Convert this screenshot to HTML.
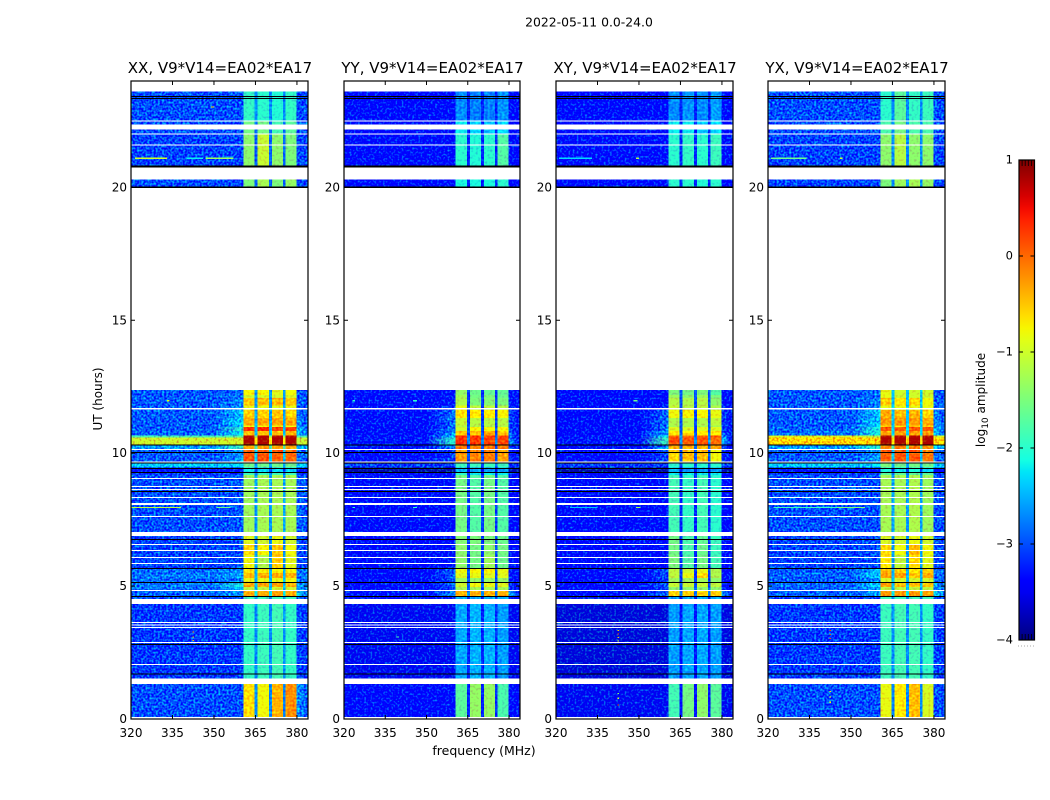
<!DOCTYPE html>
<html>
<head>
<meta charset="utf-8">
<title>2022-05-11 amplitude waterfall</title>
<style>
html,body{margin:0;padding:0;background:#fff;}
svg{display:block;}
text{font-family:"DejaVu Sans","Liberation Sans",sans-serif;fill:#000;}
</style>
</head>
<body>
<svg id="chart" xmlns="http://www.w3.org/2000/svg" width="1050" height="800" viewBox="0 0 1050 800">
  <defs id="chart-defs">
    <filter id="grain-strong" filterUnits="userSpaceOnUse" x="0" y="0" width="1050" height="800" color-interpolation-filters="sRGB">
      <feTurbulence type="fractalNoise" baseFrequency="0.48" numOctaves="1" seed="7" result="t"/>
      <feColorMatrix in="t" type="matrix" values="0 0 0 0 .5  0 1 0 0 0  0 0 0 0 .5  0 0 0 0 1" result="n"/>
      <feComposite in="SourceGraphic" in2="n" operator="arithmetic" k1="0" k2="1" k3="1.8" k4="-0.9" result="c"/>
      <feComposite in="c" in2="SourceAlpha" operator="in"/>
    </filter>
    <filter id="grain-weak" filterUnits="userSpaceOnUse" x="0" y="0" width="1050" height="800" color-interpolation-filters="sRGB">
      <feTurbulence type="fractalNoise" baseFrequency="0.42" numOctaves="1" seed="3" result="t"/>
      <feColorMatrix in="t" type="matrix" values="0 0 0 0 .5  0 1 0 0 0  0 0 0 0 .5  0 0 0 0 1" result="n"/>
      <feComposite in="SourceGraphic" in2="n" operator="arithmetic" k1="0" k2="1" k3="0.8" k4="-0.4" result="c"/>
      <feComposite in="c" in2="SourceAlpha" operator="in"/>
    </filter>
    <linearGradient id="jet-gradient" x1="0" y1="1" x2="0" y2="0"></linearGradient>
  </defs>
  <text x="589" y="26.5" font-size="12.4" text-anchor="middle">2022-05-11 0.0-24.0</text>
  <text x="484" y="755" font-size="12.5" text-anchor="middle">frequency (MHz)</text>
  <text transform="translate(102,399) rotate(-90)" font-size="12" text-anchor="middle">UT (hours)</text>
  <text transform="translate(985,400) rotate(-90)" font-size="12" text-anchor="middle">log<tspan font-size="9" dy="3">10</tspan><tspan dy="-3"> amplitude</tspan></text>
</svg>
<script>
// ---- chart data ----
const panelTitles = ["XX, V9*V14=EA02*EA17", "YY, V9*V14=EA02*EA17", "XY, V9*V14=EA02*EA17", "YX, V9*V14=EA02*EA17"];
const freqTicks = [320, 335, 350, 365, 380];
const timeTicks = [0, 5, 10, 15, 20];
const colorTicks = [1, 0, -1, -2, -3, -4];
const colorTickLabels = ["1", "0", "\u22121", "\u22122", "\u22123", "\u22124"];

// Frequency channel-group edges (MHz): off-band, shoulder, four sub-bands with gaps, right edge
const freqEdges = [320, 350, 360.6, 364.7, 365.8, 369.9, 370.9, 374.9, 375.9, 379.9, 384];
// Which value of a row each channel group reads: off, shoulder, b1, b2, b3, b4, gap, right
const groupValue = [0, 1, 2, 6, 3, 6, 4, 6, 5, 7];

// Time-block edges (UT hours), descending
const timeEdges = [23.61,22.52,21.99,20.74,20.0,12.37,12.18,12.07,11.80,11.62,11.32,11.05,10.98,10.83,10.66,10.58,10.33,10.11,9.66,9.47,9.29,9.17,6.88,6.54,6.17,5.68,5.49,5.30,5.11,4.96,4.81,4.59,4.32,1.52,0.08];

// log10 amplitude per time block: [off, shoulder, b1, b2, b3, b4, gap, right]
const ampXX = [
[-3.0,-3.0,-1.95,-2.0,-2.05,-1.95,-2.7,-3.05],
[-3.0,-3.0,-1.55,-1.55,-1.85,-1.7,-2.9,-3.0],
[-3.05,-3.05,-1.4,-1.05,-1.4,-1.5,-2.9,-3.0],
[-3.0,-3.05,-1.5,-1.25,-1.5,-1.35,-2.9,-3.05],
null,
[-2.95,-2.85,-0.75,-0.75,-0.9,-0.8,-2.6,-3.0],
[-2.95,-2.85,-1.0,-0.95,-1.0,-0.95,-2.6,-3.0],
[-2.95,-2.7,-0.5,-0.45,-0.45,-0.5,-2.6,-2.9],
[-2.95,-2.6,-0.85,-0.85,-0.9,-0.85,-2.6,-2.9],
[-2.95,-2.4,-0.55,-0.55,-0.5,-0.6,-2.6,-2.8],
[-2.95,-2.3,-0.35,-0.35,-0.3,-0.35,-2.5,-2.7],
[-2.95,-2.4,-0.8,-0.8,-0.8,-0.8,-2.5,-2.6],
[-2.95,-2.0,0.3,0.35,0.2,0.2,-2.4,-2.4],
[-2.9,-2.2,-0.45,-0.45,-0.45,-0.4,-2.4,-2.5],
[-1.8,-1.7,0.75,0.75,0.75,0.75,-1.4,-1.8],
[-1.0,-0.95,0.8,0.8,0.8,0.8,-0.7,-1.1],
[-2.6,-1.9,-0.35,-0.3,-0.3,-0.35,-1.8,-2.4],
[-2.95,-2.6,0.1,0.1,0.05,0.0,-2.4,-2.8],
[-2.4,-2.3,-1.6,-1.6,-1.6,-1.6,-2.5,-2.3],
[-3.4,-3.4,-2.2,-2.3,-2.3,-2.3,-3.1,-3.4],
[-3.1,-3.1,-1.9,-1.9,-1.9,-1.9,-2.8,-3.1],
[-3.0,-2.95,-1.3,-1.25,-1.25,-1.25,-2.6,-2.9],
[-3.05,-3.0,-0.9,-1.0,-0.85,-1.0,-2.7,-3.0],
[-3.05,-3.0,-0.6,-0.75,-0.5,-0.8,-2.7,-3.0],
[-3.05,-3.0,-0.8,-1.2,-0.55,-0.9,-2.6,-3.0],
[-2.85,-2.7,-0.65,-0.75,-0.75,-0.75,-2.5,-2.8],
[-2.8,-2.5,-0.45,-0.35,-0.35,-0.4,-2.5,-2.8],
[-2.85,-2.8,-0.85,-0.85,-0.85,-0.8,-2.5,-2.8],
[-2.8,-2.1,-0.3,-0.35,-0.3,-0.4,-2.4,-2.5],
[-2.85,-2.5,-1.1,-1.1,-1.0,-1.0,-2.5,-2.7],
[-2.9,-2.6,-0.35,-0.35,-0.3,-0.35,-2.2,-2.2],
[-3.0,-3.0,-1.9,-1.9,-1.9,-1.9,-2.7,-3.0],
[-3.1,-3.1,-1.95,-1.9,-1.85,-1.95,-2.7,-3.05],
[-3.0,-3.0,-0.65,-0.8,-0.4,-0.2,-2.7,-2.6]
];
const ampYY = [
[-3.45,-3.45,-2.7,-2.75,-2.75,-2.65,-3.2,-3.45],
[-3.45,-3.45,-2.2,-2.3,-2.4,-2.3,-3.2,-3.45],
[-3.4,-3.4,-2.0,-2.05,-2.0,-1.75,-3.2,-3.4],
[-3.4,-3.4,-2.1,-2.1,-2.1,-2.0,-3.2,-3.4],
null,
[-3.35,-3.35,-1.35,-1.6,-1.65,-1.65,-3.1,-3.3],
[-3.35,-3.3,-1.25,-1.55,-1.5,-1.6,-3.1,-3.3],
[-3.35,-3.3,-1.2,-1.5,-1.45,-1.5,-3.1,-3.2],
[-3.35,-3.1,-0.85,-1.1,-1.1,-1.15,-3.1,-3.2],
[-3.35,-2.8,-0.65,-0.7,-0.7,-0.75,-3.1,-3.0],
[-3.35,-2.8,-1.05,-1.15,-1.15,-1.15,-3.1,-3.0],
[-3.35,-2.9,-1.15,-1.2,-1.2,-1.2,-3.1,-3.0],
[-3.35,-2.8,-1.0,-0.75,-0.8,-0.75,-3.0,-3.0],
[-3.35,-2.6,-0.5,-0.5,-0.3,-0.5,-3.0,-2.9],
[-3.35,-2.3,0.2,0.25,0.15,0.15,-2.8,-2.7],
[-3.3,-2.0,0.3,0.25,0.2,0.2,-2.7,-2.6],
[-3.35,-2.6,-0.1,-0.15,-0.1,-0.15,-3.0,-3.0],
[-3.35,-3.1,-0.25,-0.15,-0.1,-0.3,-3.0,-3.2],
[-3.1,-3.1,-1.9,-1.9,-1.9,-1.9,-3.0,-3.2],
[-3.8,-3.8,-2.5,-2.6,-2.6,-2.6,-3.5,-3.7],
[-3.4,-3.4,-2.0,-2.2,-2.2,-2.2,-3.2,-3.4],
[-3.4,-3.4,-1.55,-1.75,-1.55,-1.75,-3.1,-3.4],
[-3.4,-3.4,-1.45,-1.5,-1.5,-1.6,-3.1,-3.4],
[-3.4,-3.4,-1.4,-1.55,-1.4,-1.55,-3.1,-3.4],
[-3.45,-3.3,-1.4,-1.55,-1.3,-1.6,-3.1,-3.4],
[-3.4,-2.9,-0.8,-0.75,-0.75,-0.85,-3.0,-3.3],
[-3.4,-2.85,-0.9,-0.85,-0.9,-0.9,-3.0,-3.3],
[-3.4,-3.0,-1.3,-1.35,-1.35,-1.35,-3.0,-3.3],
[-3.35,-2.9,-1.0,-0.8,-0.85,-0.9,-2.9,-3.2],
[-3.4,-3.0,-1.25,-1.25,-1.25,-1.25,-3.0,-3.1],
[-3.3,-2.7,-0.4,-0.4,-0.4,-0.4,-2.7,-2.5],
[-3.45,-3.45,-2.5,-2.5,-2.5,-2.5,-3.2,-3.45],
[-3.5,-3.5,-2.55,-2.5,-2.5,-2.6,-3.2,-3.5],
[-3.45,-3.45,-1.7,-1.35,-1.35,-1.8,-3.2,-3.4]
];
const ampXY = [
[-3.45,-3.45,-2.7,-2.65,-2.7,-2.6,-3.2,-3.45],
[-3.45,-3.45,-2.2,-2.2,-2.4,-2.3,-3.2,-3.45],
[-3.35,-3.35,-2.0,-1.95,-2.0,-1.9,-3.2,-3.4],
[-3.35,-3.35,-2.0,-2.0,-2.05,-2.0,-3.2,-3.4],
null,
[-3.4,-3.4,-1.5,-1.55,-1.5,-1.75,-3.0,-3.3],
[-3.4,-3.4,-1.3,-1.4,-1.3,-1.5,-3.0,-3.3],
[-3.4,-3.4,-1.15,-1.2,-1.15,-1.4,-3.0,-3.3],
[-3.4,-3.2,-1.05,-1.15,-1.1,-1.2,-3.0,-3.2],
[-3.4,-2.9,-0.8,-0.75,-0.75,-0.85,-3.0,-3.1],
[-3.4,-2.8,-1.2,-1.2,-1.2,-1.1,-3.0,-3.1],
[-3.4,-2.8,-1.25,-1.25,-1.25,-1.25,-3.0,-3.1],
[-3.4,-2.8,-0.9,-0.95,-0.9,-0.9,-3.0,-3.0],
[-3.4,-2.5,-0.7,-0.7,-0.7,-0.7,-2.9,-2.9],
[-3.35,-2.2,0.15,0.1,0.1,0.05,-2.7,-2.6],
[-3.3,-1.9,0.15,0.1,0.1,0.0,-2.6,-2.5],
[-3.4,-2.6,-0.35,-0.4,-0.4,-0.35,-2.9,-3.0],
[-3.4,-3.0,-0.6,-0.45,-0.45,-0.8,-3.0,-3.2],
[-3.1,-3.1,-2.0,-2.0,-2.0,-2.0,-3.0,-3.1],
[-3.8,-3.8,-2.5,-2.6,-2.6,-2.6,-3.5,-3.7],
[-3.4,-3.4,-2.2,-2.2,-2.2,-2.2,-3.2,-3.4],
[-3.45,-3.45,-1.85,-1.95,-1.85,-2.0,-3.2,-3.45],
[-3.45,-3.45,-1.55,-1.8,-1.65,-1.9,-3.2,-3.45],
[-3.45,-3.45,-1.55,-1.8,-1.6,-1.9,-3.2,-3.45],
[-3.45,-3.45,-1.5,-1.75,-1.55,-1.85,-3.2,-3.45],
[-3.45,-3.0,-1.1,-1.0,-0.85,-1.2,-3.1,-3.35],
[-3.45,-3.0,-1.1,-0.85,-0.6,-1.2,-3.1,-3.35],
[-3.45,-3.1,-1.3,-1.3,-1.3,-1.4,-3.1,-3.35],
[-3.4,-2.9,-1.05,-1.05,-1.05,-1.1,-3.0,-3.3],
[-3.4,-3.1,-1.4,-1.4,-1.4,-1.4,-3.0,-3.2],
[-3.35,-2.9,-0.55,-0.55,-0.6,-0.55,-2.8,-2.6],
[-3.5,-3.5,-2.55,-2.55,-2.55,-2.55,-3.3,-3.5],
[-3.6,-3.6,-2.6,-2.55,-2.55,-2.6,-3.3,-3.55],
[-3.5,-3.5,-1.85,-1.55,-1.4,-1.7,-3.3,-3.5]
];
const ampYX = [
[-3.0,-3.0,-2.0,-1.7,-1.95,-1.9,-2.7,-3.0],
[-3.0,-3.0,-1.8,-1.55,-1.8,-1.8,-2.7,-3.0],
[-3.05,-3.05,-1.4,-1.15,-1.4,-1.4,-2.7,-3.05],
[-3.05,-3.05,-1.5,-1.3,-1.25,-1.35,-2.7,-3.05],
null,
[-2.95,-2.85,-0.85,-1.0,-1.0,-1.0,-2.4,-3.0],
[-2.95,-2.85,-0.85,-1.0,-1.0,-1.0,-2.4,-3.0],
[-2.95,-2.75,-0.55,-0.65,-0.6,-0.8,-2.4,-2.9],
[-2.95,-2.6,-0.85,-0.85,-0.85,-0.85,-2.4,-2.9],
[-2.95,-2.4,-0.35,-0.45,-0.4,-0.6,-2.4,-2.8],
[-2.95,-2.3,-0.25,-0.25,-0.25,-0.35,-2.4,-2.7],
[-2.95,-2.3,-0.6,-0.6,-0.6,-0.6,-2.4,-2.6],
[-2.9,-2.1,0.1,0.05,0.1,0.1,-2.3,-2.4],
[-2.85,-2.1,-0.3,-0.3,-0.3,-0.3,-2.3,-2.4],
[-0.9,-1.2,0.75,0.75,0.75,0.75,-1.2,-1.0],
[-0.6,-0.6,0.8,0.8,0.8,0.8,-0.6,-0.7],
[-2.6,-2.0,-0.15,-0.1,-0.1,-0.2,-1.8,-2.3],
[-2.95,-2.6,0.05,0.1,0.1,-0.1,-2.4,-2.8],
[-2.4,-2.3,-1.5,-1.6,-1.55,-1.6,-2.5,-2.3],
[-3.4,-3.4,-2.1,-2.2,-2.1,-2.3,-3.1,-3.4],
[-3.1,-3.1,-1.7,-1.7,-1.7,-1.7,-2.8,-3.1],
[-3.0,-3.0,-1.25,-1.25,-1.2,-1.3,-2.6,-3.0],
[-3.05,-3.0,-0.95,-1.0,-0.85,-1.0,-2.6,-3.0],
[-3.05,-3.0,-0.6,-0.8,-0.45,-0.8,-2.6,-3.0],
[-3.05,-3.0,-0.7,-1.1,-0.6,-0.9,-2.6,-3.0],
[-2.95,-2.4,-0.4,-0.55,-0.65,-0.55,-2.5,-2.8],
[-2.9,-2.3,-0.3,-0.3,-0.5,-0.35,-2.5,-2.8],
[-2.95,-2.7,-0.95,-1.0,-1.0,-1.0,-2.5,-2.8],
[-2.85,-2.3,-0.3,-0.45,-0.45,-0.5,-2.4,-2.5],
[-2.95,-2.5,-1.1,-1.1,-1.1,-1.1,-2.5,-2.7],
[-2.9,-2.6,-0.25,-0.25,-0.25,-0.3,-2.2,-2.2],
[-3.05,-3.05,-1.9,-1.9,-1.9,-1.9,-2.7,-3.05],
[-3.1,-3.1,-1.9,-1.85,-1.85,-1.95,-2.7,-3.05],
[-3.0,-3.0,-0.85,-0.7,-0.45,-0.95,-2.7,-3.0]
];
const panelAmps = [ampXX, ampYY, ampXY, ampYX];

// Narrow interference and single specks: [t-top, t-bottom, f-low, f-high, log10 amp]
const rfiXX = [[21.13,21.07,321.5,333,-1.0],[21.13,21.07,347,357,-1.3],[21.13,21.07,340,346,-2.2],[7.97,7.93,320,338,-1.1],[7.97,7.93,351,356,-1.6],[3.3,3.26,342.2,342.7,-0.4],[3.1,3.06,342.2,342.7,-0.4],[2.98,2.94,342.2,342.7,-0.4],[23.05,23.0,349,350,-0.6],[12.0,11.95,333,334,-0.9]];
const rfiYY = [[12.0,11.95,345,346.5,-2.0],[12.0,11.95,323,324,-2.0],[7.97,7.93,323,324,-2.0],[7.97,7.93,345,346.5,-2.0],[3.1,3.06,339,340,-1.8]];
const rfiXY = [[21.13,21.07,321,333,-2.3],[21.13,21.07,349,350,-1.2],[7.97,7.93,325,335,-2.4],[7.97,7.93,349,350.5,-1.3],[3.35,3.31,342.2,342.7,-0.5],[3.22,3.18,342.2,342.7,0.1],[3.08,3.04,342.2,342.7,-0.5],[2.95,2.91,342.2,342.7,-1.0],[0.98,0.94,342.2,342.7,-1.4],[0.8,0.76,342.2,342.7,-1.0],[0.55,0.51,342.2,342.7,0.2],[12.0,11.95,348,349.5,-1.6]];
const rfiYX = [[21.13,21.07,321,334,-1.6],[21.13,21.07,346,347,-1.0],[7.97,7.93,322,345,-1.9],[7.97,7.93,345,355,-1.5],[3.35,3.31,342.2,342.7,0.2],[3.2,3.16,342.2,342.7,0.2],[3.05,3.01,342.2,342.7,0.2],[1.05,1.01,342.2,342.7,-0.7],[0.85,0.81,342.2,342.7,-0.7],[0.65,0.61,342.2,342.7,-0.7]];
const panelRfi = [rfiXX, rfiYY, rfiXY, rfiYX];

// Flagged samples shared by all panels: [t-top, t-bottom] in UT hours
const whiteFlags = [[24.0,23.61],[22.52,22.48],[22.37,22.18],[22.03,21.99],[21.62,21.58],[20.74,20.30],[19.98,12.37],[11.69,11.65],[10.15,10.11],[9.68,9.64],[9.06,9.02],[8.76,8.72],[8.65,8.61],[8.35,8.31],[8.12,8.05],[7.63,7.59],[7.03,6.88],[6.58,6.54],[6.35,6.32],[6.09,6.05],[5.86,5.83],[4.85,4.81],[4.52,4.32],[3.65,3.61],[3.55,3.52],[3.46,3.42],[2.89,2.86],[2.07,2.03],[1.52,1.32],[0.08,0.0]];
const blackFlags = [[23.43,23.40],[23.36,23.32],[20.83,20.74],[20.03,19.98],[10.32,10.28],[10.04,10.0],[9.64,9.61],[9.44,9.40],[9.29,9.25],[8.57,8.53],[6.77,6.73],[5.68,5.64],[5.15,5.11],[4.62,4.59],[2.82,2.78],[1.71,1.67]];

// ---- layout ----
const plotLeft = [131, 344, 556, 768];
const plotRight = [308, 520, 733, 945];
const plotTop = 81, plotBottom = 719;
const freqMin = 320, freqMax = 384, timeMax = 24;
const cbLeft = 1019, cbRight = 1034.5, cbTop = 160, cbBottom = 640;
const colorMin = -4, colorMax = 1;
const NS = "http://www.w3.org/2000/svg";
const svg = document.getElementById("chart");
const defs = document.getElementById("chart-defs");

function xScale(p, f) { return plotLeft[p] + (f - freqMin) / (freqMax - freqMin) * (plotRight[p] - plotLeft[p]); }
function yScale(t) { return plotBottom - t / timeMax * (plotBottom - plotTop); }
function cScale(v) { return cbBottom - (v - colorMin) / (colorMax - colorMin) * (cbBottom - cbTop); }

function ramp(t, pts) {
  for (let i = 1; i < pts.length; i++) {
    if (t <= pts[i][0]) {
      const a = pts[i - 1], b = pts[i];
      return a[1] + (b[1] - a[1]) * (t - a[0]) / (b[0] - a[0]);
    }
  }
  return pts[pts.length - 1][1];
}
function jet(v) {
  const t = Math.max(0, Math.min(1, (v - colorMin) / (colorMax - colorMin)));
  const r = ramp(t, [[0, 0], [0.35, 0], [0.66, 1], [0.89, 1], [1, 0.5]]);
  const g = ramp(t, [[0, 0], [0.125, 0], [0.375, 1], [0.64, 1], [0.91, 0], [1, 0]]);
  const b = ramp(t, [[0, 0.5], [0.11, 1], [0.34, 1], [0.65, 0], [1, 0]]);
  return "rgb(" + Math.round(r * 255) + "," + Math.round(g * 255) + "," + Math.round(b * 255) + ")";
}
function make(tag, parent, attrs) {
  const el = document.createElementNS(NS, tag);
  for (const k in attrs) el.setAttribute(k, attrs[k]);
  parent.appendChild(el);
  return el;
}
// Horizontal fade between two amplitudes for channel groups that roll off
function fade(id, vLeft, vRight) {
  const g = make("linearGradient", defs, { id: id, x1: 0, y1: 0, x2: 1, y2: 0 });
  make("stop", g, { offset: 0, "stop-color": jet(vLeft) });
  make("stop", g, { offset: 1, "stop-color": jet(vRight) });
  return "url(#" + id + ")";
}

// ---- panels ----
panelTitles.forEach(function (title, p) {
  const panel = make("g", svg, {});
  
  

  const offGroup = make("g", panel, { filter: "url(#grain-strong)" });
  
  
  const bandGroup = make("g", panel, { filter: "url(#grain-weak)" });
  
  

  panelAmps[p].forEach(function (row, r) {
    if (!row) return;
    const y0 = yScale(timeEdges[r]), y1 = yScale(timeEdges[r + 1]);
    groupValue.forEach(function (vi, c) {
      const x0 = xScale(p, freqEdges[c]), x1 = xScale(p, freqEdges[c + 1]);
      const isOff = vi === 0 || vi === 1 || vi === 7;
      let fill = jet(row[vi]);
      if (vi === 1) fill = fade("fade-l-" + p + "-" + r, row[0], row[1]);
      if (vi === 7) fill = fade("fade-r-" + p + "-" + r, row[7], row[0]);
      const cell = make("rect", isOff ? offGroup : bandGroup, {
        x: x0, y: y0, width: x1 - x0, height: y1 - y0,
        fill: fill, "shape-rendering": "crispEdges"
      });
      
      
    });
  });

  panelRfi[p].forEach(function (line) {
    const mark = make("rect", panel, {
      x: xScale(p, line[2]), y: yScale(line[0]),
      width: xScale(p, line[3]) - xScale(p, line[2]),
      height: yScale(line[1]) - yScale(line[0]),
      fill: jet(line[4]), "shape-rendering": "crispEdges"
    });
    
    
  });

  whiteFlags.forEach(function (f) {
    const band = make("rect", panel, {
      x: plotLeft[p], y: yScale(f[0]), width: plotRight[p] - plotLeft[p],
      height: yScale(f[1]) - yScale(f[0]), fill: "#fff", "shape-rendering": "crispEdges"
    });
    
    
  });
  blackFlags.forEach(function (f) {
    const band = make("rect", panel, {
      x: plotLeft[p], y: yScale(f[0]), width: plotRight[p] - plotLeft[p],
      height: yScale(f[1]) - yScale(f[0]), fill: "#000", "shape-rendering": "crispEdges"
    });
    
    
  });

  // ticks
  freqTicks.forEach(function (f) {
    const x = xScale(p, f);
    const top = make("line", panel, { x1: x, x2: x, y1: plotTop, y2: plotTop + 4, stroke: "#000", "stroke-width": 1 });
    
    
    const bottom = make("line", panel, { x1: x, x2: x, y1: plotBottom, y2: plotBottom - 4, stroke: "#000", "stroke-width": 1 });
    
    
    const label = make("text", panel, { x: x, y: plotBottom + 18, "font-size": 12, "text-anchor": "middle" });
    label.textContent = f;
    
    
  });
  timeTicks.forEach(function (t) {
    const y = yScale(t);
    const left = make("line", panel, { x1: plotLeft[p], x2: plotLeft[p] + 4, y1: y, y2: y, stroke: "#000", "stroke-width": 1 });
    
    
    const right = make("line", panel, { x1: plotRight[p], x2: plotRight[p] - 4, y1: y, y2: y, stroke: "#000", "stroke-width": 1 });
    
    
    const label = make("text", panel, { x: plotLeft[p] - 4, y: y + 4, "font-size": 12, "text-anchor": "end" });
    label.textContent = t;
    
    
  });

  const frame = make("rect", panel, {
    x: plotLeft[p], y: plotTop, width: plotRight[p] - plotLeft[p], height: plotBottom - plotTop,
    fill: "none", stroke: "#000", "stroke-width": 1.2
  });
  
  

  const head = make("text", panel, { x: (plotLeft[p] + plotRight[p]) / 2 + 0.5, y: plotTop - 8, "font-size": 15, "text-anchor": "middle" });
  head.textContent = title;
  
  
});

// ---- colorbar ----
const grad = document.getElementById("jet-gradient");
for (let i = 0; i <= 40; i++) {
  make("stop", grad, { offset: (i / 40), "stop-color": jet(colorMin + (colorMax - colorMin) * i / 40) });
}
const cb = make("g", svg, {});


const cbFill = make("rect", cb, { x: cbLeft, y: cbTop, width: cbRight - cbLeft, height: cbBottom - cbTop, fill: "url(#jet-gradient)" });


colorTicks.forEach(function (v, i) {
  const y = cScale(v);
  const a = make("line", cb, { x1: cbLeft, x2: cbLeft + 4, y1: y, y2: y, stroke: "#000", "stroke-width": 1 });
  
  
  const b = make("line", cb, { x1: cbRight, x2: cbRight - 4, y1: y, y2: y, stroke: "#000", "stroke-width": 1 });
  
  
  const label = make("text", cb, { x: cbLeft - 6, y: y + 3.5, "font-size": 11.5, "text-anchor": "end" });
  label.textContent = colorTickLabels[i];
  
  
});
for (let i = 1; i <= 4; i++) {
  const x = cbLeft + i * (cbRight - cbLeft) / 5;
  const t1 = make("line", cb, { x1: x, x2: x, y1: cbTop, y2: cbTop + 6, stroke: "#000", "stroke-width": 0.8 });
  
  
  const t2 = make("line", cb, { x1: x, x2: x, y1: cbBottom, y2: cbBottom - 6, stroke: "#000", "stroke-width": 0.8 });
  
  
}
for (let i = 0; i < 6; i++) {
  const dot = make("rect", cb, { x: cbLeft - 1 + i * 3, y: cbBottom + 5.5, width: 1, height: 1, fill: "#aaa" });
  
  
}
const cbFrame = make("rect", cb, { x: cbLeft, y: cbTop, width: cbRight - cbLeft, height: cbBottom - cbTop, fill: "none", stroke: "#000", "stroke-width": 1.2 });


</script>
</body>
</html>
